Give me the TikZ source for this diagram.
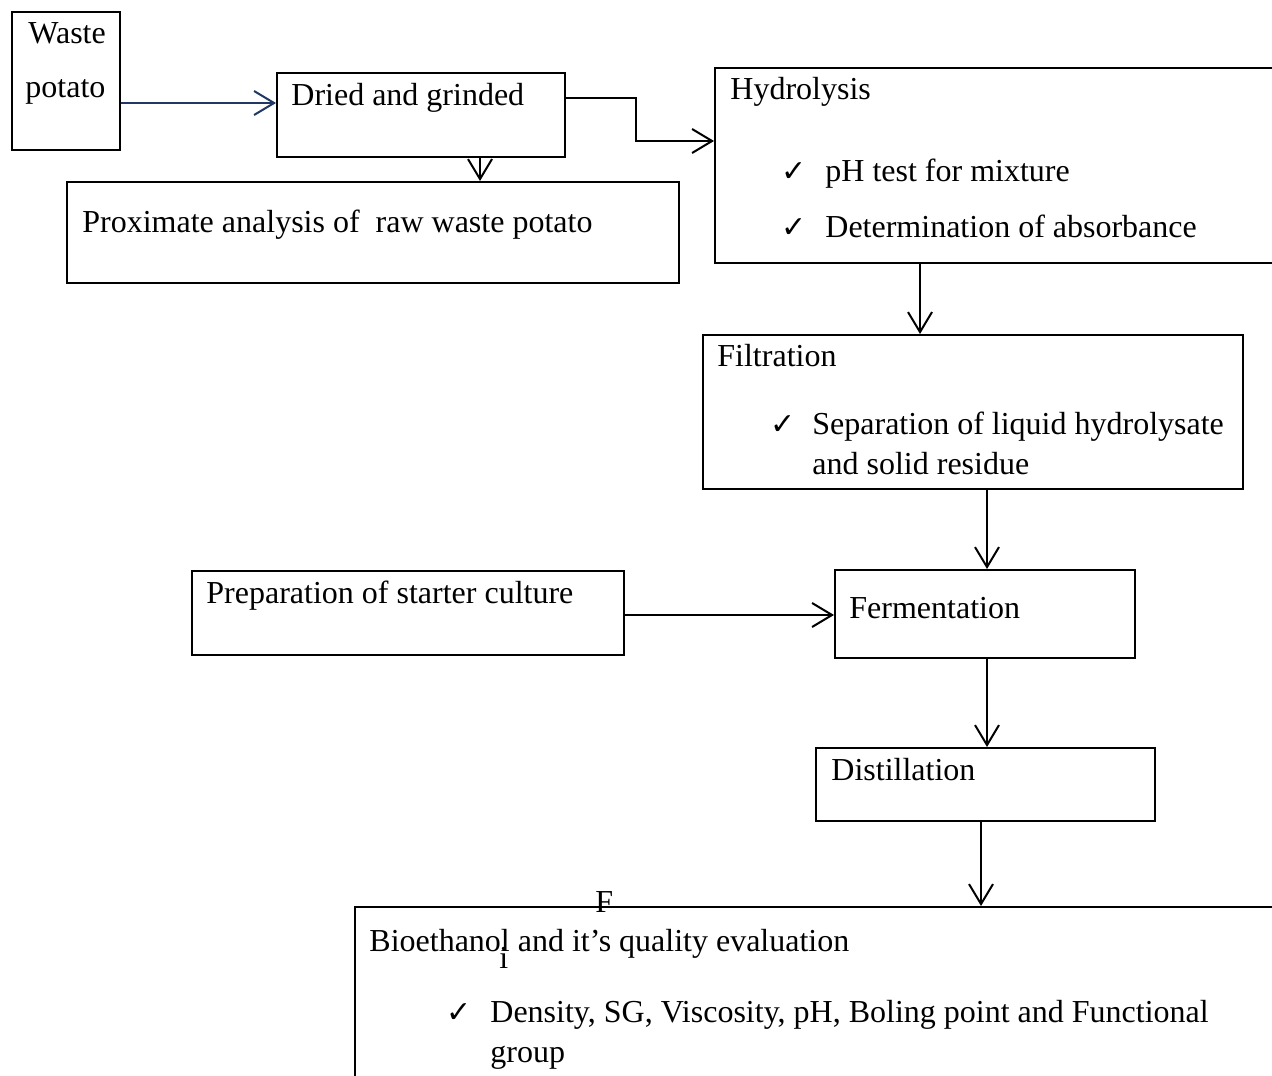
\documentclass[tikz,border=0pt]{standalone}
\usepackage{fontspec}
\setmainfont{Liberation Serif}
\newfontfamily\symfont{DejaVu Sans}
\usetikzlibrary{arrows.meta,fit}
\definecolor{navyline}{HTML}{1F3864}
\tikzset{
  box/.style = {draw=black, line width=1pt, inner sep=0pt, fit={#1}},% step box
  txt/.style = {anchor=base west, inner sep=0pt,
    font=\fontsize{16}{20}\selectfont},% box text
  chk/.style = {txt, font=\symfont\fontsize{15}{20}\selectfont},% tick
  arr/.style = {-{Straight Barb[length=10pt,width=12pt]}, line width=1pt}
}
\begin{document}
\begin{tikzpicture}[x=0.5pt,y=-0.5pt]
\useasboundingbox (0,0) rectangle (1272,1075);
% boxes
\node [box={(12,12) (120,150)}] (wp) {};
\node [box={(277,73) (565,157)}] (dg) {};
\node [box={(67,182) (679,283)}] (px) {};
\node [box={(715,68) (1295,263)}] (hy) {};
\node [box={(703,335) (1243,489)}] (fi) {};
\node [box={(192,571) (624,655)}] (pr) {};
\node [box={(835,570) (1135,658)}] (fe) {};
\node [box={(816,748) (1155,821)}] (di) {};
\node [box={(355,907) (1295,1095)}] (bio) {};
% texts
\node [txt] (wp1) at (28,44) {Waste};
\node [txt] (wp2) at (25,98) {potato};
\node [txt] (dgt) at (291,106) {Dried and grinded};
\node [txt] (pxt) at (82,232) {Proximate analysis of\ \ raw waste potato};
\node [txt] (hyt) at (730,100) {Hydrolysis};
\node [chk] (hyc1) at (781,182) {✓};
\node [txt] (hy1) at (825,182) {pH test for mixture};
\node [chk] (hyc2) at (781,237) {✓};
\node [txt] (hy2) at (825,237) {Determination of absorbance};
\node [txt] (fit) at (717,366) {Filtration};
\node [chk] (fic) at (770,434) {✓};
\node [txt] (fi1) at (812,434) {Separation of liquid hydrolysate};
\node [txt] (fi2) at (812,474) {and solid residue};
\node [txt] (prt) at (206,603) {Preparation of starter culture};
\node [txt] (fet) at (849,618) {Fermentation};
\node [txt] (dit) at (831,780) {Distillation};
\node [txt] (biot) at (369,951) {Bioethanol and it’s quality evaluation};
\node [txt] (strayf) at (595,912) {F};
\node [txt] (strayi) at (499,968) {i};
\node [chk] (bioc) at (446,1022) {✓};
\node [txt] (bio1) at (490,1022) {Density, SG, Viscosity, pH, Boling point and Functional};
\node [txt] (bio2) at (490,1062) {group};
% connectors
\draw [arr, navyline] (wp.east |- 0,103) -- (dg.west |- 0,103);
\draw [arr] (dg.south -| 480,0) -- (px.north -| 480,0);
\draw [arr] (dg.east |- 0,98) -- (636,98) |- (hy.west |- 0,141);
\draw [arr] (hy.south -| 920,0) -- (fi.north -| 920,0);
\draw [arr] (fi.south -| 987,0) -- (fe.north -| 987,0);
\draw [arr] (pr.east |- 0,615) -- (fe.west |- 0,615);
\draw [arr] (fe.south -| 987,0) -- (di.north -| 987,0);
\draw [arr] (di.south -| 981,0) -- (bio.north -| 981,0);
\end{tikzpicture}
\end{document}
